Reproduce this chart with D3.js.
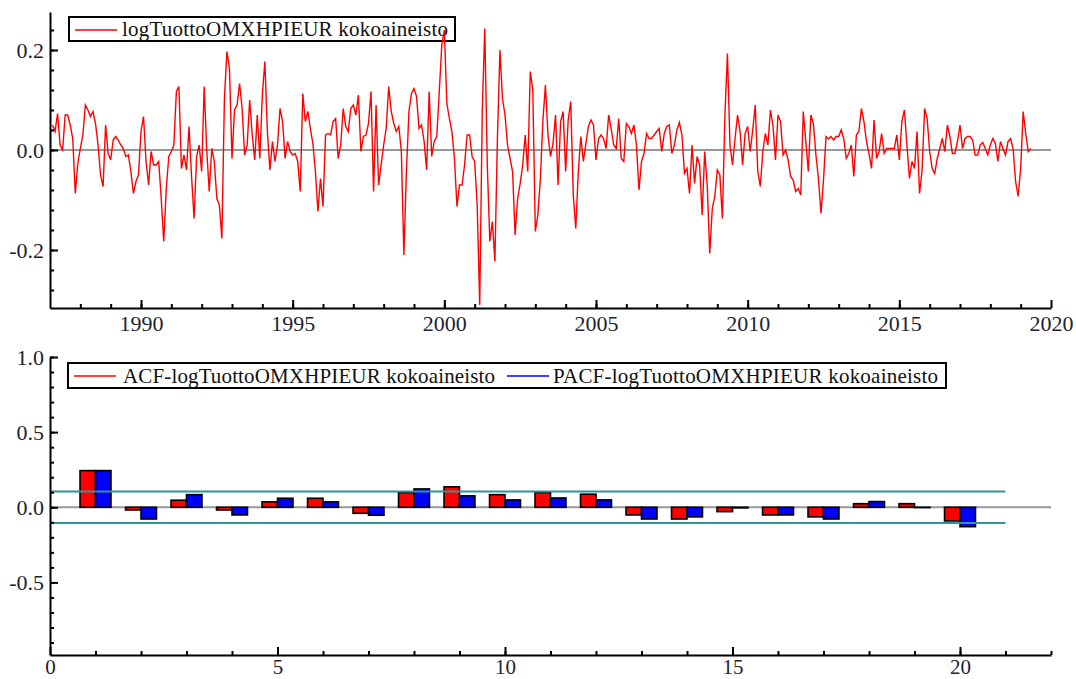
<!DOCTYPE html>
<html>
<head>
<meta charset="utf-8">
<script src="https://cdn.jsdelivr.net/npm/d3@7"></script>
<style>
  body { margin: 0; background: #fff; }
  svg { display: block; }
  text { font-family: "Liberation Serif", "Times New Roman", serif; }
</style>
</head>
<body>
<svg id="chart" width="1076" height="679" font-family="Liberation Serif, Times New Roman, serif"></svg>
<script>
// Monthly log returns of OMXH PI (EUR), starting February 1987
const startYear = 1987;
const startMonth = 2;
const logReturns = [
  0.05, 0.037, 0.073, 0.01, 0.0, 0.07, 0.07, 0.05, 0.023, -0.087, -0.027, 0.003,
  0.03, 0.09, 0.08, 0.067, 0.077, 0.053, 0.01, -0.05, -0.073, 0.05, -0.007, -0.02,
  0.02, 0.027, 0.02, 0.01, 0.003, -0.013, -0.01, -0.043, -0.087, -0.063, -0.05, 0.037,
  0.067, -0.023, -0.07, -0.003, -0.03, -0.03, -0.023, -0.097, -0.183, -0.077, -0.013, -0.003,
  0.01, 0.117, 0.127, -0.037, -0.01, -0.04, 0.047, -0.053, -0.137, -0.013, 0.01, -0.043,
  0.127, 0.0, -0.083, 0.003, -0.023, -0.097, -0.11, -0.177, 0.103, 0.197, 0.163, -0.017,
  0.08, 0.09, 0.133, 0.083, -0.01, 0.01, 0.1, 0.03, -0.02, 0.07, -0.017, 0.11,
  0.177, 0.037, -0.04, 0.017, -0.023, 0.01, 0.083, 0.057, -0.017, 0.017, -0.003, -0.01,
  -0.007, -0.023, -0.083, 0.113, 0.057, 0.077, 0.043, 0.013, -0.043, -0.123, -0.057, -0.113,
  0.03, 0.033, 0.03, 0.057, 0.063, -0.017, 0.01, 0.083, 0.047, 0.037, 0.083, 0.09,
  0.07, 0.11, -0.003, 0.027, 0.03, 0.053, 0.117, -0.083, 0.09, -0.07, -0.03, 0.01,
  0.043, 0.127, 0.077, 0.053, 0.037, 0.047, -0.003, -0.21, -0.043, 0.077, 0.113, 0.123,
  0.107, 0.043, 0.05, 0.017, -0.04, 0.117, -0.013, 0.017, 0.027, 0.117, 0.21, 0.24,
  0.093, 0.063, 0.037, -0.017, -0.113, -0.07, -0.07, -0.03, 0.03, 0.03, -0.013, -0.023,
  -0.11, -0.31, 0.077, 0.243, -0.03, -0.183, -0.143, -0.223, 0.023, 0.2, 0.103, 0.07,
  0.01, -0.017, -0.043, -0.17, -0.097, -0.067, -0.03, 0.03, -0.043, 0.157, 0.12, -0.163,
  -0.13, -0.057, 0.06, 0.13, 0.03, -0.013, 0.013, 0.07, -0.07, 0.057, 0.077, -0.043,
  0.06, 0.097, -0.09, -0.157, -0.043, 0.027, -0.023, 0.013, 0.047, 0.06, 0.05, -0.02,
  0.023, 0.03, 0.023, 0.003, 0.07, 0.043, 0.01, 0.003, 0.063, -0.017, -0.023, 0.053,
  0.047, 0.033, 0.05, 0.01, -0.08, -0.023, -0.007, 0.033, 0.023, 0.023, 0.03, 0.037,
  0.043, -0.003, 0.033, 0.047, 0.05, -0.007, 0.01, 0.04, 0.055, 0.03, -0.047, -0.037,
  -0.087, 0.01, -0.067, -0.013, -0.03, -0.13, -0.003, -0.07, -0.207, -0.117, -0.093, -0.04,
  -0.05, -0.137, 0.07, 0.193, 0.01, -0.03, 0.023, 0.07, 0.037, -0.03, 0.033, 0.047,
  -0.003, 0.04, 0.09, -0.043, -0.073, -0.003, 0.033, 0.01, 0.08, 0.05, -0.02, 0.07,
  0.057, -0.01, 0.0, -0.02, -0.053, -0.06, -0.083, -0.077, -0.09, 0.077, 0.017, -0.043,
  0.07, 0.053, -0.01, -0.057, -0.127, -0.06, 0.027, 0.022, 0.027, 0.02, 0.027, 0.027,
  0.04, 0.023, -0.017, -0.007, 0.01, -0.053, 0.03, 0.037, 0.083, 0.057, 0.017, -0.007,
  -0.037, 0.06, -0.017, -0.003, 0.033, -0.007, 0.003, 0.003, 0.003, 0.003, 0.03, -0.02,
  0.057, 0.08, 0.01, -0.057, -0.023, -0.037, 0.037, -0.087, -0.04, 0.083, 0.063, -0.003,
  -0.037, -0.047, -0.017, 0.003, 0.023, -0.003, 0.05, 0.027, -0.007, -0.007, 0.017, 0.05,
  0.003, 0.023, 0.027, 0.027, 0.02, -0.01, -0.01, 0.01, 0.015, 0.003, -0.01, 0.01,
  0.023, 0.013, -0.023, 0.017, 0.003, -0.01, 0.017, 0.023, 0.003, -0.063, -0.093, -0.037,
  0.077, 0.033, -0.003, 0.003
];

// Autocorrelations of the series, lags 1..20
const lags = [1, 2, 3, 4, 5, 6, 7, 8, 9, 10, 11, 12, 13, 14, 15, 16, 17, 18, 19, 20];
const acf  = [0.244, -0.018, 0.047, -0.018, 0.036, 0.06, -0.04, 0.098, 0.136, 0.084,
              0.098, 0.087, -0.051, -0.078, -0.029, -0.051, -0.064, 0.024, 0.024, -0.091];
const pacf = [0.244, -0.078, 0.084, -0.051, 0.06, 0.036, -0.053, 0.122, 0.076, 0.049,
              0.062, 0.049, -0.078, -0.064, -0.004, -0.051, -0.078, 0.038, -0.002, -0.129];
const confBand = 0.105;

// Tick values and labels
const yearTicks = [1990, 1995, 2000, 2005, 2010, 2015, 2020];
const yearLabels = ["1990", "1995", "2000", "2005", "2010", "2015", "2020"];
const retTicks = [-0.2, 0.0, 0.2];
const retLabels = ["-0.2", "0.0", "0.2"];
const lagTicks = [0, 5, 10, 15, 20];
const lagLabels = ["0", "5", "10", "15", "20"];
const corrTicks = [-0.5, 0.0, 0.5, 1.0];
const corrLabels = ["-0.5", "0.0", "0.5", "1.0"];

const seriesName = "logTuottoOMXHPIEUR kokoaineisto";

const svg = d3.select("#chart");
const FONT = '"Liberation Serif", "Times New Roman", serif';

function styleAxis(size) {
  return g => {
    g.attr("font-family", null);
    g.selectAll("path").attr("stroke", "#000").attr("stroke-width", 2);
    g.selectAll("line").attr("stroke", "#000").attr("stroke-width", 2);
    g.selectAll("text")
      .attr("fill", "#1e2233")
      .style("font-family", FONT)
      .style("font-size", size + "px");
  };
}

/* ---------- upper panel: return series ---------- */
const xTime = d3.scaleLinear().domain([1987, 2020]).range([50, 1051]);
const yRet = d3.scaleLinear().domain([-0.316, 0.276]).range([308, 12]);

svg.append("line")
  .attr("x1", xTime(1987)).attr("x2", xTime(2020))
  .attr("y1", yRet(0)).attr("y2", yRet(0))
  .attr("stroke", "#999").attr("stroke-width", 2);

// legend
const topLeg = svg.append("g");
topLeg.append("rect")
  .attr("x", 69).attr("y", 17).attr("width", 386).attr("height", 24)
  .attr("fill", "#fff").attr("stroke", "#000").attr("stroke-width", 2);
topLeg.append("line")
  .attr("x1", 75).attr("x2", 117).attr("y1", 30).attr("y2", 30)
  .attr("stroke", "#ff0000").attr("stroke-width", 1.5);
topLeg.append("text")
  .attr("x", 122).attr("y", 36)
  .attr("textLength", 326).attr("lengthAdjust", "spacing")
  .style("font-family", FONT).style("font-size", "21px").attr("fill", "#111")
  .text(seriesName);

const line = d3.line()
  .x((d, i) => xTime(startYear + (startMonth - 1 + i) / 12))
  .y(d => yRet(d));

svg.append("path")
  .datum(logReturns)
  .attr("d", line)
  .attr("fill", "none")
  .attr("stroke", "#ff0000")
  .attr("stroke-width", 1.4)
  .attr("stroke-linejoin", "miter");

// axes
svg.append("g").attr("transform", "translate(0,308)")
  .call(d3.axisBottom(xTime).tickValues(d3.range(1988, 2020)).tickSizeInner(-4).tickSizeOuter(0).tickFormat(""))
  .call(g => g.select(".domain").remove())
  .call(styleAxis(22));
svg.append("g").attr("transform", "translate(0,308)")
  .call(d3.axisBottom(xTime).tickValues(yearTicks).tickSizeInner(-8).tickSizeOuter(0).tickPadding(7)
    .tickFormat((d, i) => yearLabels[i]))
  .call(styleAxis(22));
svg.append("g").attr("transform", "translate(50,0)")
  .call(d3.axisLeft(yRet).tickValues(d3.range(-7, 7).map(k => k * 0.04)).tickSizeInner(-4).tickSizeOuter(0).tickFormat(""))
  .call(g => g.select(".domain").remove())
  .call(styleAxis(22));
svg.append("g").attr("transform", "translate(50,0)")
  .call(d3.axisLeft(yRet).tickValues(retTicks).tickSizeInner(-8).tickSizeOuter(0).tickPadding(6)
    .tickFormat((d, i) => retLabels[i]))
  .call(styleAxis(22));

/* ---------- lower panel: ACF / PACF ---------- */
const xLag = d3.scaleLinear().domain([0, 22]).range([50, 1051]);
const yCorr = d3.scaleLinear().domain([-0.983, 1.0]).range([655, 357]);
const barW = 0.34;

svg.append("line")
  .attr("x1", xLag(0)).attr("x2", xLag(22))
  .attr("y1", yCorr(0)).attr("y2", yCorr(0))
  .attr("stroke", "#999").attr("stroke-width", 2);

function drawBars(values, offset, color) {
  svg.append("g").selectAll("rect")
    .data(lags)
    .join("rect")
    .attr("x", (k) => xLag(k + offset))
    .attr("width", xLag(barW) - xLag(0))
    .attr("y", (k, i) => yCorr(Math.max(values[i], 0)))
    .attr("height", (k, i) => Math.abs(yCorr(values[i]) - yCorr(0)))
    .attr("fill", color)
    .attr("stroke", "#000")
    .attr("stroke-width", 1.6);
}
drawBars(acf, -barW, "#ff0000");
drawBars(pacf, 0, "#0000ff");

[confBand, -confBand].forEach(b => {
  svg.append("line")
    .attr("x1", xLag(0)).attr("x2", xLag(21))
    .attr("y1", yCorr(b)).attr("y2", yCorr(b))
    .attr("stroke", "#2f9696").attr("stroke-width", 2);
});

// legend
const botLeg = svg.append("g");
botLeg.append("rect")
  .attr("x", 68).attr("y", 363).attr("width", 878).attr("height", 25)
  .attr("fill", "#fff").attr("stroke", "#000").attr("stroke-width", 2);
botLeg.append("line")
  .attr("x1", 74).attr("x2", 116).attr("y1", 376).attr("y2", 376)
  .attr("stroke", "#ff0000").attr("stroke-width", 1.5);
botLeg.append("text")
  .attr("x", 123).attr("y", 383)
  .attr("textLength", 372).attr("lengthAdjust", "spacing")
  .style("font-family", FONT).style("font-size", "21px").attr("fill", "#111")
  .text("ACF-" + seriesName);
botLeg.append("line")
  .attr("x1", 507).attr("x2", 549).attr("y1", 376).attr("y2", 376)
  .attr("stroke", "#0000ff").attr("stroke-width", 1.5);
botLeg.append("text")
  .attr("x", 553).attr("y", 383)
  .attr("textLength", 385).attr("lengthAdjust", "spacing")
  .style("font-family", FONT).style("font-size", "21px").attr("fill", "#111")
  .text("PACF-" + seriesName);

// axes
svg.append("g").attr("transform", "translate(0,655)")
  .call(d3.axisBottom(xLag).tickValues(d3.range(1, 23)).tickSizeInner(-4).tickSizeOuter(0).tickFormat(""))
  .call(g => g.select(".domain").remove())
  .call(styleAxis(21));
svg.append("g").attr("transform", "translate(0,655)")
  .call(d3.axisBottom(xLag).tickValues(lagTicks).tickSizeInner(-8).tickSizeOuter(0).tickPadding(4)
    .tickFormat((d, i) => lagLabels[i]))
  .call(styleAxis(21));
svg.append("g").attr("transform", "translate(50,0)")
  .call(d3.axisLeft(yCorr).tickValues(d3.range(-9, 11).map(k => k / 10)).tickSizeInner(-4).tickSizeOuter(0).tickFormat(""))
  .call(g => g.select(".domain").remove())
  .call(styleAxis(22));
svg.append("g").attr("transform", "translate(50,0)")
  .call(d3.axisLeft(yCorr).tickValues(corrTicks).tickSizeInner(-8).tickSizeOuter(0).tickPadding(6)
    .tickFormat((d, i) => corrLabels[i]))
  .call(styleAxis(22));
</script>
</body>
</html>
